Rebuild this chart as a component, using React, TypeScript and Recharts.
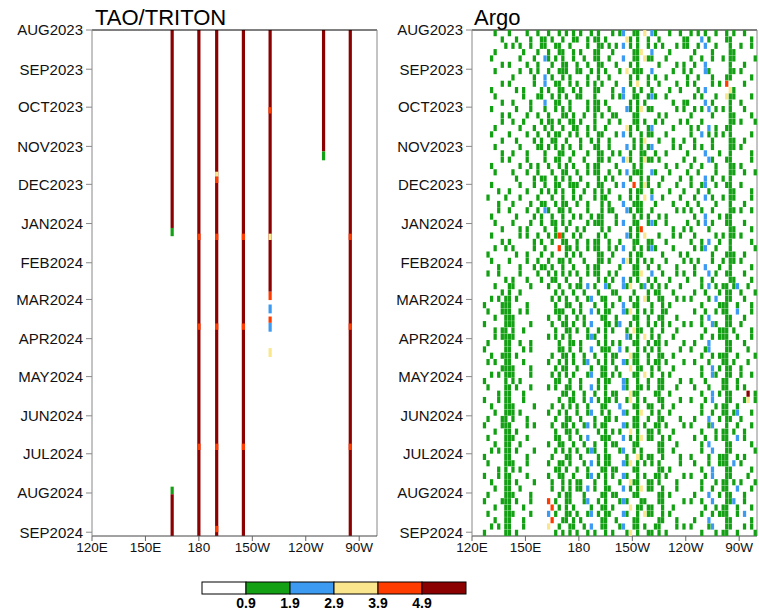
import React from 'react';
import { ScatterChart, Scatter, XAxis, YAxis, ReferenceArea, ReferenceLine } from 'recharts';

// time axis: days since 1 Aug 2023, one row of the Argo grid = 10 days
const monthDays = [0, 31, 61, 92, 122, 153, 184, 213, 244, 274, 305, 335, 366, 397];
const monthLabels = [
  'AUG2023', 'SEP2023', 'OCT2023', 'NOV2023', 'DEC2023', 'JAN2024', 'FEB2024',
  'MAR2024', 'APR2024', 'MAY2024', 'JUN2024', 'JUL2024', 'AUG2024', 'SEP2024',
];
const lonTicks = [120, 150, 180, 210, 240, 270];
const lonLabels = ['120E', '150E', '180', '150W', '120W', '90W'];

const levelLabels = ['0.9', '1.9', '2.9', '3.9', '4.9'];
const levelColors = ['#ffffff', '#14a014', '#3c9bf0', '#fae68c', '#ff3c00', '#8b0000'];
const colorKeys = ['', 'g', 'b', 'y', 'r', 'd'];

// TAO/TRITON moorings: [lon, startDay, endDay, colour]
const taoSegments: [number, number, number, string][] = [
  [165, 0, 156.5, 'd'], [165, 156.5, 163, 'g'], [165, 361, 367, 'g'], [165, 367, 400, 'd'],
  [180, 0, 400, 'd'], [180, 161, 166, 'r'], [180, 232, 237, 'r'], [180, 327, 332, 'r'],
  [190, 0, 400, 'd'], [190, 112, 116, 'y'], [190, 116, 121, 'r'], [190, 161, 166, 'r'],
  [190, 232, 237, 'r'], [190, 327, 332, 'r'], [190, 392, 397, 'r'],
  [205, 0, 400, 'd'], [205, 161, 166, 'r'], [205, 232, 237, 'r'], [205, 327, 332, 'r'],
  [220, 0, 207, 'd'], [220, 61, 66, 'r'], [220, 161, 166, 'y'], [220, 207, 213.5, 'r'],
  [220, 217, 224, 'b'], [220, 226.5, 231.5, 'r'], [220, 231.5, 238.5, 'b'], [220, 251.5, 258.5, 'y'],
  [250, 0, 96, 'd'], [250, 96, 103, 'g'],
  [265, 0, 400, 'd'], [265, 161, 166, 'r'], [265, 232, 237, 'r'], [265, 327, 332, 'r'],
];

// Argo: 40 rows of 10 days, 80 columns of 2 deg from 120E.
// lower case = first pentad, upper case = second pentad, # = both (green)
const argoRows = [
  '......g.G.|g.G..gG.gG|GgG.gGg.#G|g.GgG#.G.g|.gbYGg#.yG|bgG..g..gG|Gg.gBgG.g.|.#Gg..g.G.',
  '......G..g|.g.gG.g.Gg|gG.g#G.gG.|G.g.G#g.gG|g.b.gG#Y.g|Bg.g.G.g.g|g.Gg.b.Gg.|..#G.g..g.',
  '.....g..G.|G..g.G.gG.|bgGg.#G.gG|.gG.g#G.g.|G.b.Gg#.yg|g.G.g..G.G|.gG.gB.g..|g.#g..G..g',
  '......g...|.G.g..gGg.|BgG.g#gG.g|g.Gg.#.gG.|.g.yGg#g.G|bG..G.g..g|Gg.G.bgG..|.G#g.g..G.',
  '.....G..g.|g.G.G..g.G|bG.g#G.gGg|G.g.#Gg..G|g.B.gGyG.g|G.g..G.gG.|g.gG.B.g.g|.rYG..g...',
  '......g.G.|.G..g.G.gg|B.gG#.gG.g|g.G.#G.G.g|.gb.Gg#.Gg|bg..g.G..G|G.g.gB.Gg.|.y#g.G..g.',
  '.....g..G.|G.g..Gg.G.|gG.g.#GgG.|.Gg.#gG.gG|G..bgG#y.g|g.G.G..g.g|.Gg.g.bGg.|g.#G..g.G.',
  '......G.g.|.g.Gg..G.g|Gg#.gG.g#G|g.G.#..Gg.|.g.YGg#.gG|Bg.g..G.g.|gG.Gg.B.G.|.G#g.g...g',
  '.....g..G.|g.G..g.GgG|.gG#g.Gg.g|G.gG.#g.G.|g.b.gG.#Yg|g.G.g.G..G|.gG.b.gGg.|g.#G..G.g.',
  '......g.G.|.G.g.G..gg|Gg.gG#.gG.|g.G.g#G.gG|.G.bGg.#Gg|bG..G.g.g.|G.g.gB.g.G|..#g.g..G.',
  '.....G..g.|g..G.gG.G.|gG.g#.GgG.|.gG.G#g.g.|G.bygG.#yg|g.g.G..G.g|.Gg.G.bgG.|.g#G.G..g.',
  '......g...|.gG..g.GgG|G.gG.#gG.g|G.g.g#.GgG|.g.bGgg#.G|bg.G.g..G.|gG.g.B.Gg.|G.#g..g..g',
  '.....g.G..|G..g.G.g.G|gG.#gG.g#g|.Gg.Gg#.G.|g.b.GrG#yg|G.g..G.g.G|.g.GgbG.g.|.g#G.g..G.',
  '....g..G.g|.G.g..G.gG|G.gG.#G.gG|g.G.g.#gG.|.gB.gG#Gy.|bG.g..G.g.|G.gG.b.gG.|g.#g..G.g.',
  '.....G.g..|g.G..g.GgG|bgG.g#.gG.|G.gG.G#.gg|G..bgGg#.G|g.G.G..g.g|.gG.gB.g.G|.G#g.g..g.',
  '......g.G.|.g.G.Gg..g|G.g#.gGg.G|.Gg.gg#.G.|g.b.Gg#R.g|bg..g.G..G|gG.g.bGg..|.g#G..g.G.',
  '.....g..G.|G..g.g.GgG|.gGgr#G.gG|g.G.G#.gG.|.G.bgG#.yG|G.g.G.g.g.|.Gg.G.B.gG|g.#g.g..G.',
  '....G.g..g|.gG..G.g.G|g.G.r.#gGg|G.g.g#G.gG|g.b.GgG#.g|bg.G..g.G.|G.g.gb.Gg.|.G#G..G..g',
  '.....g.G..|g..G.g.GgG|GgG.g#.gG.|.gG.G#g.g.|.GbygG#.gG|g.G.g..G.g|.gGg.B.g.G|g.#g.g..G.',
  '....g..g.G|.G.g.G..gG|.gG#.gGg.g|G.g.g#.GgG|g.B.Gg#y.G|bG.g.G.g.g|G.g.G.bGg.|.g#G..g.G.',
  '......g.G.|#g.G..g...|.g.GgG.gGg|gGb.gG.bgG|G.bgyG.gbG|gG#.g.G.g.|..G.gGb.gG|g#GgbG.g.G',
  '...G.g.gG#|#.g..G....|..gGg.#G.g|G.gbG.g#.G|.gB.gG#.yg|G.g#.G.g.g|.g..G.g.bG|G#g.G.g.G.',
  '....g.G.g#|#G.g.g....|.G.g#gG.gG|gG.b.gG#g.|G.bgyG#.gG|g.G#g..G..|..g.GgB.g.|g#G.b.G.g.',
  '...g..G.G#|g#..G.g...|..gG.g#GgG|.gGb.G.#gG|gb.GgY#G.g|Gg.#.g.G.g|.g..gG.bgG|G#gG.g..G.',
  '....G.g.g#|#g.G..G...|.g.gGg.#G.|G.gbgG.#.G|.G.bgG#.yG|gG#.G.g..G|..G.g.Bg.g|g#G.g.G.g.',
  '...g.G..G#|#.G.g.g...|..G.g#GgG.|gG.bG.g#gG|Gb.gYG#.gG|g.#G..G.g.|.g..GgbG.G|G#g.G..g.G',
  '....g.g.G#|#G..g.G...|.g.GgG#.gG|.gbG.gG#.g|G.bgYg#G.g|Gg#.g.G..g|..g.G.gB.G|g#Gg.G.g..',
  '...G.g.g.#|g#.G..g...|..gG#.gGg.|G.gb.Gg#Gg|.gBG.g#.yG|g.G#.g..G.|.G..gG.bg.|G#g.Gg..g.',
  '....g..G.#|#.g.G.g...|.g.g.G#gG.|gG.bGg.#.G|G.bgYG#g.g|.G#g.G.g..|..g.G.gB.G|g#G.g.gD.G',
  '...g.G.g.#|#G..g..G..|..G.gG.#gG|.gGb.gG#g.|gB.gyG#.gG|G.g#..G.g.|.g..Gg.bG.|G#g.G.gy.g',
  '....G.g.G#|g#.g.G....|.g.Gg.#G.g|G.gbG.gG#.|G.bg.G#y.G|g.#G.g..G.|..G.g.Bg.G|g#GgbG..g.',
  '...g..G.g#|#.G..g.g..|..gG.g#GgG|.gb.gGg#.G|.GbgYg#.gG|Gg#.g.G..g|.g..G.gbG.|G#.Gg.G.g.',
  '....g.G..#|#g.G.g....|.G.g#G.gG.|gGb.G.g#gG|G.b.gG#y.g|g.G#.g.G..|..g.GgB.g.|g#G.b.g.G.',
  '...G.g.g.#|#.g..G.g..|..Gg.gG#.g|G.gbgG.#G.|.gbG.gY#.G|G.g#..g.G.|.G..g.Gb.G|G#g.G.G..g',
  '....g..G.#|g#.G.g....|.g.G#gGg.G|.gGb.gG#gG|G.bgyG#.g.|g.#G.G..g.|..g.G.gB.g|g#Gb.g..G.',
  '...g.G.g.#|#.G..g.G..|.gG.g#.GgG|G.gbGg.#.g|.GbgYG#.gG|Gg#.g..G.g|.g..Gg.bG.|G#gG.G.g.G',
  '....G.g..#|#G.g..G...|..g.GgG#.g|gGb.g.G#gG|G.b.gG#y.g|g.G#.G.g..|..G.g.Bg.G|g#G.b.G.g.',
  '...g..G.g#|#.g.G.g...|.rRgG.#gG.|.gbG.gG#.G|.gbgY.G#gG|G.g#..G..g|.g..gG.bG.|G#gbG.g.G.',
  '....g.G..#|#g..G.g...|.bRg.G#gGg|G.gb.gG#g.|G.bg.G#.yg|g.G#.g.G..|..G.g.Bg.g|g#G.g.b.G.',
  '...G.g.g.#|#.G.g.....|.y.GgG.#gG|.gGbG.g#.G|.gbGYg#.gG|Gg#.G..g.g|.g..G.gbG.|G#g.G.g.gG',
];

const FONT = "'Liberation Sans', Arial, sans-serif";
const PLOT_W = 285;
const PLOT_H = 506;
const CELL_W = PLOT_W / 80;
const CELL_H = PLOT_H / 80;
const DASH_W = CELL_W - 0.3;
const DASH_H = CELL_H - 0.2;

// expand the row strings into scatter points per colour
const argoPoints: Record<string, { x: number; y: number }[]> = { g: [], b: [], y: [], r: [], d: [] };
argoRows.forEach((row, k) => {
  const cells = row.replace(/\|/g, '').padEnd(80, '.').slice(0, 80);
  for (let c = 0; c < 80; c++) {
    const ch = cells[c];
    if (ch === '.') continue;
    const x = 121 + 2 * c;
    if (ch === '#') {
      argoPoints.g.push({ x, y: 10 * k + 2.5 }, { x, y: 10 * k + 7.5 });
      continue;
    }
    const key = ch.toLowerCase();
    const y = ch === key ? 10 * k + 2.5 : 10 * k + 7.5;
    if (argoPoints[key]) argoPoints[key].push({ x, y });
  }
});

const colorOf = (key: string) => levelColors[colorKeys.indexOf(key)];

const lonAxis = () => (
  <XAxis
    type="number"
    dataKey="x"
    domain={[120, 280]}
    allowDataOverflow
    ticks={lonTicks}
    interval={0}
    tickFormatter={(v: number) => lonLabels[lonTicks.indexOf(v)]}
    tick={{ fill: '#111', fontSize: 13.5, fontFamily: FONT }}
    tickSize={5}
    tickMargin={1}
    height={34}
    axisLine={{ stroke: '#444' }}
    tickLine={{ stroke: '#666' }}
  />
);

const timeAxis = () => (
  <YAxis
    type="number"
    dataKey="y"
    domain={[0, 400]}
    reversed
    allowDataOverflow
    ticks={monthDays}
    interval={0}
    tickFormatter={(v: number) => monthLabels[monthDays.indexOf(v)]}
    tick={{ fill: '#111', fontSize: 15, fontFamily: FONT }}
    tickSize={6}
    tickMargin={3}
    width={92}
    axisLine={{ stroke: '#888' }}
    tickLine={{ stroke: '#888' }}
  />
);

const TaoPanel = () => (
  <ScatterChart width={380} height={570} margin={{ top: 30, right: 3, left: 0, bottom: 0 }}>
    {lonAxis()}
    {timeAxis()}
    {taoSegments.map(([lon, s, e, key], i) => (
      <ReferenceArea
        key={i}
        x1={lon - 0.9}
        x2={lon + 0.9}
        y1={s}
        y2={e}
        fill={colorOf(key)}
        fillOpacity={1}
        stroke="none"
      />
    ))}
    <ReferenceLine y={0} stroke="#000" />
    <ReferenceLine x={280} stroke="#888" />
  </ScatterChart>
);

const ArgoPanel = () => (
  <ScatterChart width={379} height={570} margin={{ top: 30, right: 2, left: 0, bottom: 0 }}>
    {lonAxis()}
    {timeAxis()}
    {['g', 'b', 'y', 'r', 'd'].map((key) => (
      <Scatter
        key={key}
        data={argoPoints[key]}
        isAnimationActive={false}
        shape={(p: any) => (
          <rect
            x={p.cx - DASH_W / 2}
            y={p.cy - DASH_H / 2}
            width={DASH_W}
            height={DASH_H}
            fill={colorOf(key)}
          />
        )}
      />
    ))}
    <ReferenceLine y={0} stroke="#000" />
    <ReferenceLine x={280} stroke="#888" />
  </ScatterChart>
);

const Overlay = () => {
  const x0 = 202;
  const w = 44;
  return (
    <svg width={759} height={612} style={{ position: 'absolute', left: 0, top: 0, pointerEvents: 'none' }}>
      <text x={95} y={25} fontSize={22} fontFamily={FONT} fill="#000">TAO/TRITON</text>
      <text x={474} y={25} fontSize={22} fontFamily={FONT} fill="#000">Argo</text>
      {levelColors.map((c, i) => (
        <rect key={i} x={x0 + i * w} y={582} width={w} height={12} fill={c} stroke="#000" strokeWidth={1} />
      ))}
      {levelLabels.map((l, i) => (
        <text
          key={l}
          x={x0 + (i + 1) * w}
          y={608}
          fontSize={14}
          fontWeight="bold"
          fontFamily={FONT}
          textAnchor="middle"
          fill="#000"
        >
          {l}
        </text>
      ))}
    </svg>
  );
};

export default function App() {
  return (
    <div style={{ position: 'absolute', left: 0, top: 0, width: 759, height: 612, background: '#fff' }}>
      <div style={{ position: 'absolute', left: 0, top: 0 }}>
        <TaoPanel />
      </div>
      <div style={{ position: 'absolute', left: 380, top: 0 }}>
        <ArgoPanel />
      </div>
      <Overlay />
    </div>
  );
}
